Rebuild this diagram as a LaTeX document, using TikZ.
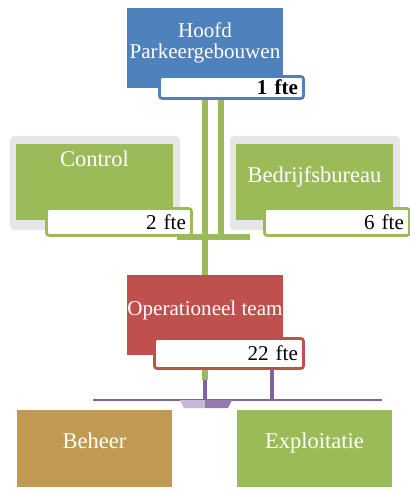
\documentclass[tikz,border=0pt]{standalone}
\usepackage{fontspec}
\setmainfont{Liberation Serif}
\usetikzlibrary{positioning}

\definecolor{hfblue}{HTML}{4F81BD}
\definecolor{olgreen}{HTML}{9BBB59}
\definecolor{opred}{HTML}{C0504D}
\definecolor{bhtan}{HTML}{C09A52}
\definecolor{lnpurple}{HTML}{8064A2}
\definecolor{framegrey}{HTML}{E6E6E6}

\tikzset{
  unitbox/.style={rectangle, fill=#1, text=white, inner xsep=0pt, inner ysep=0pt,
    minimum width=3.9cm, minimum height=2cm, font=\fontsize{16}{15}\selectfont},
  shadowbox/.style={rectangle, rounded corners=3pt, fill=framegrey,
    minimum width=4.25cm, minimum height=2.35cm},
  ftebar/.style={rectangle, draw=#1, fill=white, line width=2pt, rounded corners=2pt,
    align=right, inner xsep=4pt, inner ysep=0pt, font=\fontsize{15}{15}\selectfont},
  gline/.style={draw=olgreen, line width=4.2pt},
  pline/.style={draw=lnpurple, line width=3.5pt},
}

\begin{document}
\begin{tikzpicture}[x=0.025cm, y=-0.025cm]
    \useasboundingbox (0,0) rectangle (409,493);

    % Hoofd
    \node[unitbox=hfblue, align=center, font=\fontsize{15}{15}\selectfont, text depth=0.35cm] (hoofd) at (205,48) {Hoofd\\Parkeergebouwen};
    \node[ftebar=hfblue, minimum width=3.6cm, minimum height=0.55cm, text width=3.32cm, font=\bfseries\fontsize{15}{15}\selectfont] (hoofdfte) at (231.5,87.5) {1 fte};

    % Staf
    \node[shadowbox] (controlframe) at (95,183) {};
    \node[shadowbox] (bedrijfframe) at (315,183) {};
    \node[unitbox=olgreen, minimum height=1.9cm, text height=0.4cm, text depth=1.15cm] (control) at (94.5,182) {Control};
    \node[ftebar=olgreen, minimum width=3.625cm, minimum height=0.675cm, text width=3.345cm] (controlfte) at (119,222) {2 fte};
    \node[unitbox=olgreen, minimum height=1.9cm, text height=0.4cm, text depth=0.4cm] (bedrijf) at (314.5,182) {Bedrijfsbureau};
    \node[ftebar=olgreen, minimum width=3.625cm, minimum height=0.675cm, text width=3.345cm] (bedrijffte) at (337,222) {6 fte};

    % Operationeel team
    \node[unitbox=opred, font=\fontsize{15}{15}\selectfont, text height=0.4cm, text depth=0.4cm] (ops) at (205,315) {Operationeel team};
    \node[ftebar=opred, minimum width=3.725cm, minimum height=0.75cm, text width=3.445cm] (opsfte) at (229,353.5) {22 fte};

    % Afdelingen
    \node[unitbox=bhtan, minimum width=3.875cm, minimum height=1.925cm, text height=0.4cm, text depth=0.4cm] (beheer) at (94.5,448.5) {Beheer};
    \node[unitbox=olgreen, minimum width=3.875cm, minimum height=1.925cm, text height=0.4cm, text depth=0.4cm] (exploit) at (314.5,448.5) {Exploitatie};

    % Lijnen boven
    \coordinate (jl) at (205,237);
    \coordinate (jr) at (221,237);
    \coordinate (hl) at (177,237);
    \coordinate (hr) at (250,237);
    \draw[gline] (hoofdfte.south -| jl) -- (jl);
    \draw[gline] (hoofdfte.south -| jr) -- (jr);
    \draw[gline] (hl) -- (hr);
    \draw[gline] (jl) -- (ops.north);

    % Lijnen onder
    \coordinate (bl) at (93,400);
    \coordinate (br) at (382,400);
    \coordinate (pr) at (272,400);
    \draw[pline] (opsfte.south -| ops) -- (bl -| ops);
    \draw[pline] (opsfte.south -| pr) -- (pr);
    \draw[gline] (opsfte.south -| ops) -- +(0,10);
    \draw[draw=lnpurple, line width=1.5pt] (bl) -- (br);
    \fill[lnpurple!45] (180,400) -- (205,400) -- (205,408) -- (184,408) -- cycle;
    \fill[lnpurple!85] (205,400) -- (232,400) -- (228,408) -- (205,408) -- cycle;
\end{tikzpicture}
\end{document}
